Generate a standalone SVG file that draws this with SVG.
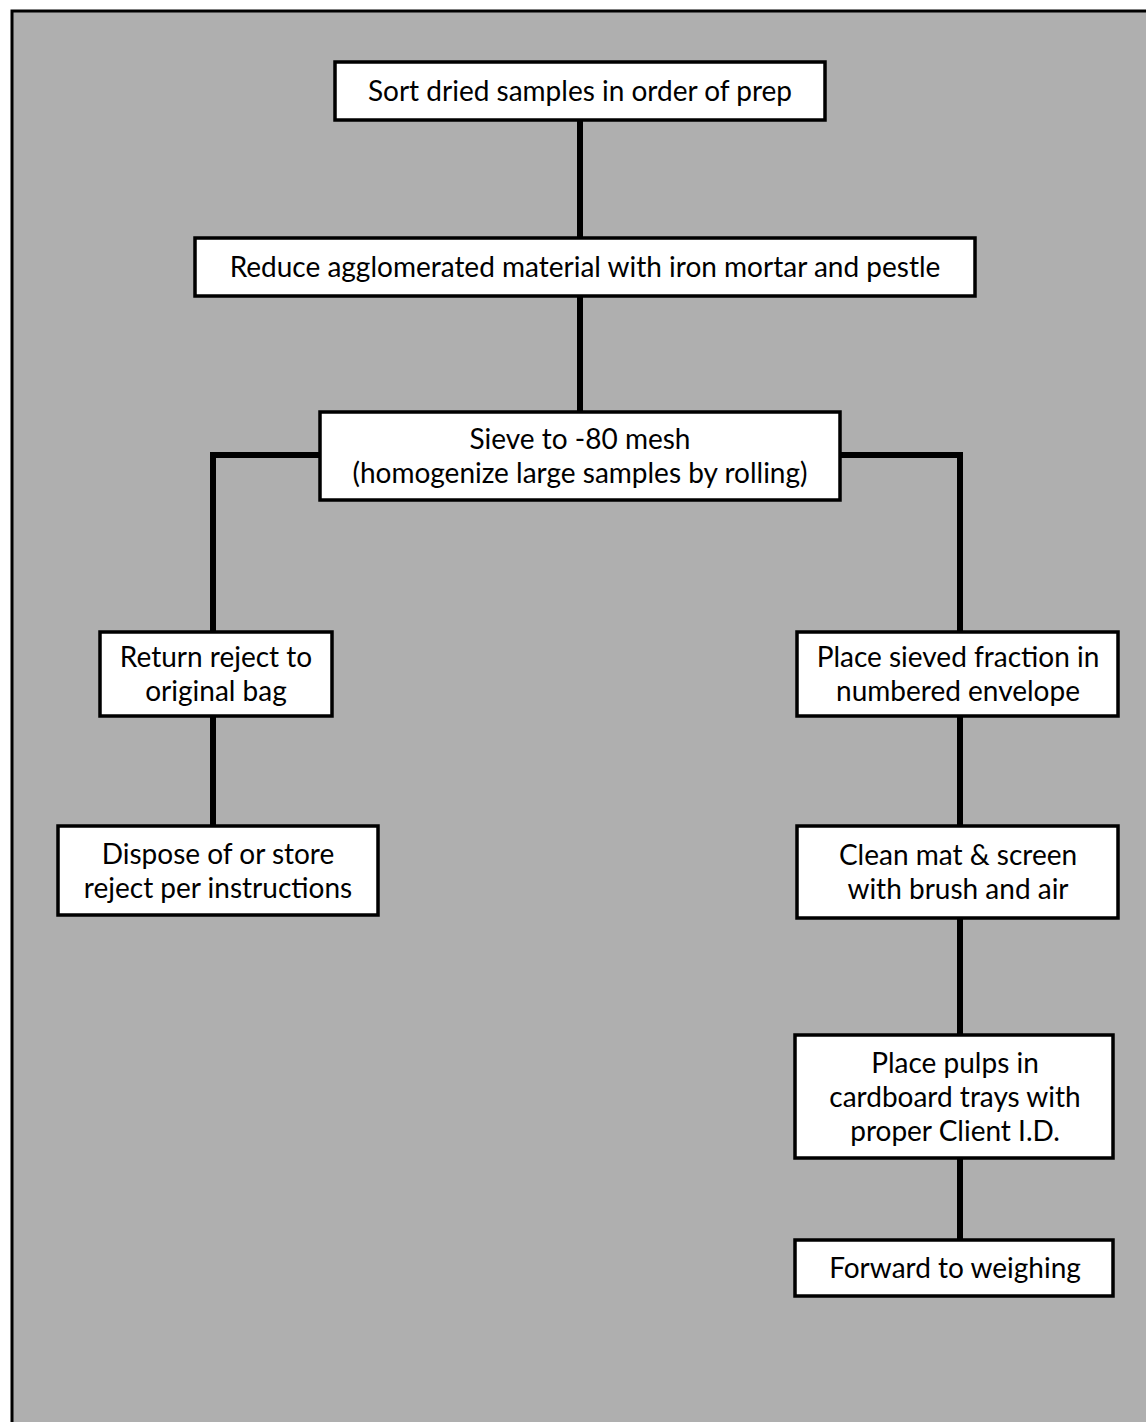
<svg xmlns="http://www.w3.org/2000/svg" width="1146" height="1422" viewBox="0 0 1146 1422">
<style>
.box{fill:#ffffff;stroke:#000;stroke-width:3.5}
.lbl{font-family:Lato,"Liberation Sans",sans-serif;font-size:28px;fill:#000;text-anchor:middle}
.con{stroke:#000;stroke-width:6;fill:none}
</style>
<rect x="0" y="0" width="1146" height="1422" fill="#ffffff"/>
<rect x="12" y="11" width="1140" height="1420" fill="#afafaf"/>
<path d="M12,1422 V11 H1146" stroke="#000" stroke-width="3" fill="none"/>
<g id="connectors">
<path class="con" d="M580,120 V238"/>
<path class="con" d="M580,296 V412"/>
<path class="con" d="M320,455 H213 V632"/>
<path class="con" d="M840,455 H960 V632"/>
<path class="con" d="M213,716 V826"/>
<path class="con" d="M960,716 V826"/>
<path class="con" d="M960,918 V1035"/>
<path class="con" d="M960,1158 V1240"/>
</g>
<g id="n1"><rect class="box" x="335" y="62" width="490" height="58"/><text class="lbl" x="580" y="101">Sort dried samples in order of prep</text></g>
<g id="n2"><rect class="box" x="195" y="238" width="780" height="58"/><text class="lbl" x="585" y="277">Reduce agglomerated material with iron mortar and pestle</text></g>
<g id="n3"><rect class="box" x="320" y="412" width="520" height="88"/><text class="lbl" x="580" y="449">Sieve to -80 mesh</text><text class="lbl" x="580" y="483">(homogenize large samples by rolling)</text></g>
<g id="n4"><rect class="box" x="100" y="632" width="232" height="84"/><text class="lbl" x="216" y="667">Return reject to</text><text class="lbl" x="216" y="701">original bag</text></g>
<g id="n5"><rect class="box" x="58" y="826" width="320" height="89"/><text class="lbl" x="218" y="864">Dispose of or store</text><text class="lbl" x="218" y="898">reject per instructions</text></g>
<g id="n6"><rect class="box" x="797" y="632" width="321" height="84"/><text class="lbl" x="958" y="667">Place sieved fraction in</text><text class="lbl" x="958" y="701">numbered envelope</text></g>
<g id="n7"><rect class="box" x="797" y="826" width="321" height="92"/><text class="lbl" x="958" y="865">Clean mat &amp; screen</text><text class="lbl" x="958" y="899">with brush and air</text></g>
<g id="n8"><rect class="box" x="795" y="1035" width="318" height="123"/><text class="lbl" x="955" y="1073">Place pulps in</text><text class="lbl" x="955" y="1107">cardboard trays with</text><text class="lbl" x="955" y="1141">proper Client I.D.</text></g>
<g id="n9"><rect class="box" x="795" y="1240" width="318" height="56"/><text class="lbl" x="955" y="1278">Forward to weighing</text></g>
</svg>
